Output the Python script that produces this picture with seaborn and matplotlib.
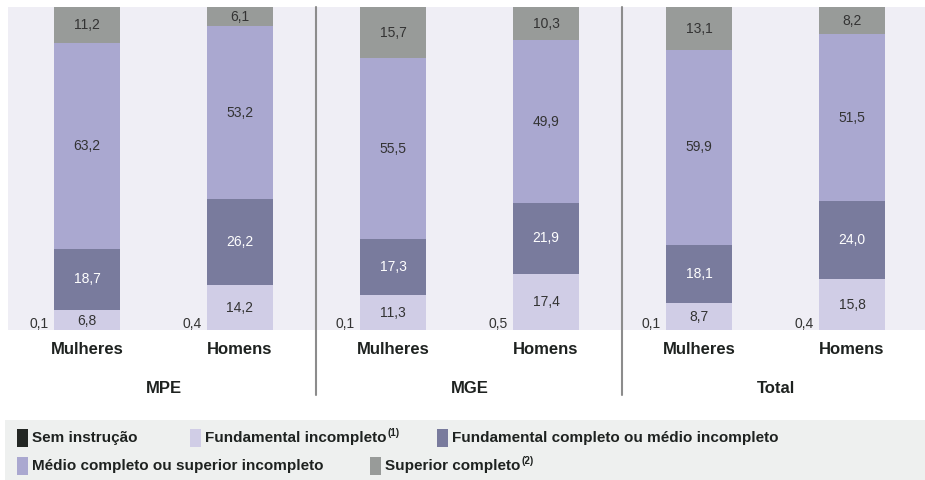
import matplotlib
matplotlib.use('Agg')
import numpy as np
import pandas as pd
import matplotlib.pyplot as plt
import matplotlib.transforms as mtransforms
from matplotlib.patches import Rectangle
import seaborn as sns

# dados (%)
grupos = ['MPE', 'MGE', 'Total']
sexos = ['Mulheres', 'Homens']
niveis = ['Sem instrução', 'Fundamental incompleto', 'Fundamental completo ou médio incompleto',
          'Médio completo ou superior incompleto', 'Superior completo']
notas = ['', '(1)', '', '', '(2)']
sem_instrucao = [0.1, 0.4, 0.1, 0.5, 0.1, 0.4]
fund_incompleto = [6.8, 14.2, 11.3, 17.4, 8.7, 15.8]
fund_completo = [18.7, 26.2, 17.3, 21.9, 18.1, 24.0]
medio_completo = [63.2, 53.2, 55.5, 49.9, 59.9, 51.5]
superior_completo = [11.2, 6.1, 15.7, 10.3, 13.1, 8.2]
cores = ['#232724', '#d0cde6', '#797b9d', '#aaa8d0', '#989b99']

camadas = [sem_instrucao, fund_incompleto, fund_completo, medio_completo, superior_completo]
barras = [g + ' ' + s for g in grupos for s in sexos]

sns.set_style('white')
plt.rcParams['font.family'] = ['Liberation Sans Narrow', 'Liberation Sans', 'DejaVu Sans']

W, H = 925, 480
fig = plt.figure(figsize=(W / 100, H / 100), dpi=100)
ax = fig.add_axes([8 / W, 1 - 330 / H, 917 / W, 323 / H])
ax.set_facecolor('#efeef5')

acum = np.cumsum(np.array(camadas), axis=0)
# desenha do topo para baixo, cada camada cobre a anterior
for k in range(len(camadas) - 1, -1, -1):
    df = pd.DataFrame({'barra': barras, 'topo': acum[k]})
    sns.barplot(data=df, x='barra', y='topo', order=barras, color=cores[k],
                saturation=1, width=0.43, ax=ax, linewidth=0)

def fmt(v):
    return f'{v:.1f}'.replace('.', ',')

for i in range(len(barras)):
    base = 0
    for k, camada in enumerate(camadas):
        v = camada[i]
        if k == 0:
            ax.text(i - 0.25, 2.6, fmt(v), ha='right', va='center', fontsize=10, color='#333333')
        else:
            cor = 'white' if k == 2 else '#333333'
            ax.text(i, base + v / 2, fmt(v), ha='center', va='center', fontsize=10, color=cor)
        base += v

ax.set_xlim(-0.516, 5.477)
ax.set_ylim(0.6, 100)
ax.set_yticks([])
ax.set_xticks(range(len(barras)))
ax.set_xticklabels(sexos * 3, fontsize=12, fontweight='bold', color='#1e2220')
ax.tick_params(axis='x', length=0, pad=9)
ax.set_xlabel('')
ax.set_ylabel('')
for s in ax.spines.values():
    s.set_visible(False)

trans = mtransforms.blended_transform_factory(ax.transData, ax.transAxes)
for g, nome in enumerate(grupos):
    ax.text(2 * g + 0.5, -0.18, nome, transform=trans, ha='center', va='center',
            fontsize=12, fontweight='bold', color='#1e2220')
for xs in [1.5, 3.5]:
    ax.plot([xs, xs], [1.0, -0.2], transform=trans, color='#8c8c8c', lw=1.5, clip_on=False)

# legenda
fig.patches.append(Rectangle((5 / W, 0), 920 / W, 60 / H, transform=fig.transFigure,
                             facecolor='#eef0ef', edgecolor='none', zorder=0))
posicoes = [(17, 438), (190, 438), (437, 438), (17, 466), (370, 466)]
renderer = fig.canvas.get_renderer()
for k, (px, py) in enumerate(posicoes):
    fig.patches.append(Rectangle((px / W, 1 - (py + 9) / H), 11 / W, 18 / H,
                                 transform=fig.transFigure, facecolor=cores[k],
                                 edgecolor='none', zorder=1))
    t = fig.text((px + 15) / W, 1 - py / H, niveis[k], ha='left', va='center',
                 fontsize=11, fontweight='bold', color='#1e2220')
    if notas[k]:
        bb = t.get_window_extent(renderer)
        fig.text(bb.x1 / W + 1 / W, 1 - (py - 5) / H, notas[k], ha='left', va='center',
                 fontsize=7, fontweight='bold', color='#1e2220')

fig.savefig('out.png', dpi=100)
